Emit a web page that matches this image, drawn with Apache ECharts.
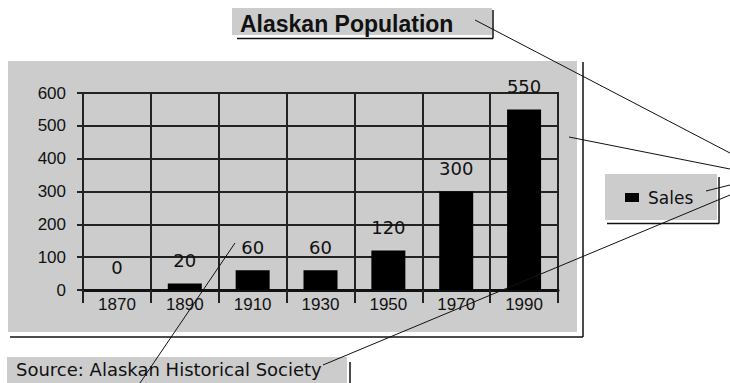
<!DOCTYPE html>
<html>
<head>
<meta charset="utf-8">
<script src="https://cdn.jsdelivr.net/npm/echarts@6/dist/echarts.min.js"></script>
<style>
  html, body { margin: 0; padding: 0; background: #ffffff; }
  #chart { width: 730px; height: 383px; }
</style>
</head>
<body>
<div id="chart"></div>
<script>
// Census years and population figures (thousands)
const years = ['1870', '1890', '1910', '1930', '1950', '1970', '1990'];
const sales = [0, 20, 60, 60, 120, 300, 550];
const yTicks = { min: 0, max: 600, interval: 100 };
const seriesName = 'Sales';
const titleText = 'Alaskan Population';
const sourceText = 'Source: Alaskan Historical Society';

const GRAY = '#cccccc';
const INK = '#111111';

const chart = echarts.init(document.getElementById('chart'), null, { renderer: 'svg' });

// helper for the thin callout / shadow strokes
function seg(x1, y1, x2, y2, w) {
  return {
    type: 'line',
    shape: { x1, y1, x2, y2 },
    style: { stroke: INK, lineWidth: w || 1 },
    silent: true
  };
}

chart.setOption({
  animation: false,
  backgroundColor: '#ffffff',
  title: {
    text: titleText,
    left: 240,
    top: 12,
    padding: 0,
    textStyle: {
      fontFamily: 'Liberation Sans',
      fontWeight: 'bold',
      fontSize: 23,
      color: INK
    }
  },
  legend: {
    data: [seriesName],
    left: 625,
    top: 189,
    padding: 0,
    icon: 'rect',
    itemWidth: 14,
    itemHeight: 9,
    textStyle: {
      fontFamily: 'DejaVu Sans',
      fontSize: 17,
      color: INK,
      padding: [0, 0, 0, 4]
    }
  },
  grid: {
    left: 83,
    right: 172,
    top: 93,
    bottom: 93,
    show: true,
    borderColor: '#222222',
    borderWidth: 2,
    backgroundColor: GRAY
  },
  xAxis: {
    type: 'category',
    data: years,
    boundaryGap: true,
    axisLine: { lineStyle: { color: INK, width: 3 } },
    axisTick: { show: true, length: 13, inside: false, lineStyle: { color: '#222222', width: 2 } },
    splitLine: { show: true, lineStyle: { color: '#222222', width: 2 } },
    axisLabel: {
      margin: 6,
      fontFamily: 'Liberation Sans',
      fontSize: 17,
      color: INK
    }
  },
  yAxis: {
    type: 'value',
    min: yTicks.min,
    max: yTicks.max,
    interval: yTicks.interval,
    axisLine: { show: true, lineStyle: { color: '#222222', width: 2 } },
    axisTick: { show: true, length: 6, lineStyle: { color: '#222222', width: 2 } },
    splitLine: { show: true, lineStyle: { color: '#222222', width: 2 } },
    axisLabel: {
      margin: 17,
      fontFamily: 'Liberation Sans',
      fontSize: 17,
      color: INK
    }
  },
  series: [{
    name: seriesName,
    type: 'bar',
    data: sales,
    barWidth: 34,
    itemStyle: { color: '#000000' },
    label: {
      show: true,
      position: 'top',
      distance: 14,
      fontFamily: 'DejaVu Sans',
      fontSize: 18,
      color: INK
    },
    z: 3
  }],
  graphic: [
    // panel behind the plot, with its drop-shadow strokes
    { type: 'rect', shape: { x: 8, y: 61, width: 569, height: 271 }, style: { fill: GRAY }, z: -10, silent: true },
    Object.assign(seg(583, 62, 583, 337, 1.5), { z: -9 }),
    Object.assign(seg(10, 337, 583, 337, 1.5), { z: -9 }),
    // title box
    { type: 'rect', shape: { x: 232, y: 8, width: 260, height: 27 }, style: { fill: GRAY }, z: -10, silent: true },
    Object.assign(seg(237, 38.5, 493, 38.5, 1.5), { z: -9 }),
    Object.assign(seg(493, 10, 493, 38.5, 1.5), { z: -9 }),
    // legend box
    { type: 'rect', shape: { x: 605, y: 174, width: 112, height: 46 }, style: { fill: GRAY }, z: -10, silent: true },
    Object.assign(seg(719, 177, 719, 223.5, 1.5), { z: -9 }),
    Object.assign(seg(607, 223.5, 719, 223.5, 1.5), { z: -9 }),
    // source note
    { type: 'rect', shape: { x: 7, y: 357, width: 340, height: 30 }, style: { fill: GRAY }, z: -10, silent: true },
    Object.assign(seg(350, 362, 350, 383, 1.5), { z: -9 }),
    {
      type: 'text',
      left: 16,
      top: 360,
      style: {
        text: sourceText,
        fontFamily: 'DejaVu Sans',
        fontSize: 18,
        fill: INK
      },
      z: 5,
      silent: true
    },
    // callout leader lines
    Object.assign(seg(475, 20, 730, 153), { z: 20 }),
    Object.assign(seg(569, 137, 730, 169), { z: 20 }),
    Object.assign(seg(706, 191, 730, 185), { z: 20 }),
    Object.assign(seg(323, 365, 730, 195), { z: 20 }),
    Object.assign(seg(140, 383, 235, 243), { z: 20 })
  ]
});
</script>
</body>
</html>
